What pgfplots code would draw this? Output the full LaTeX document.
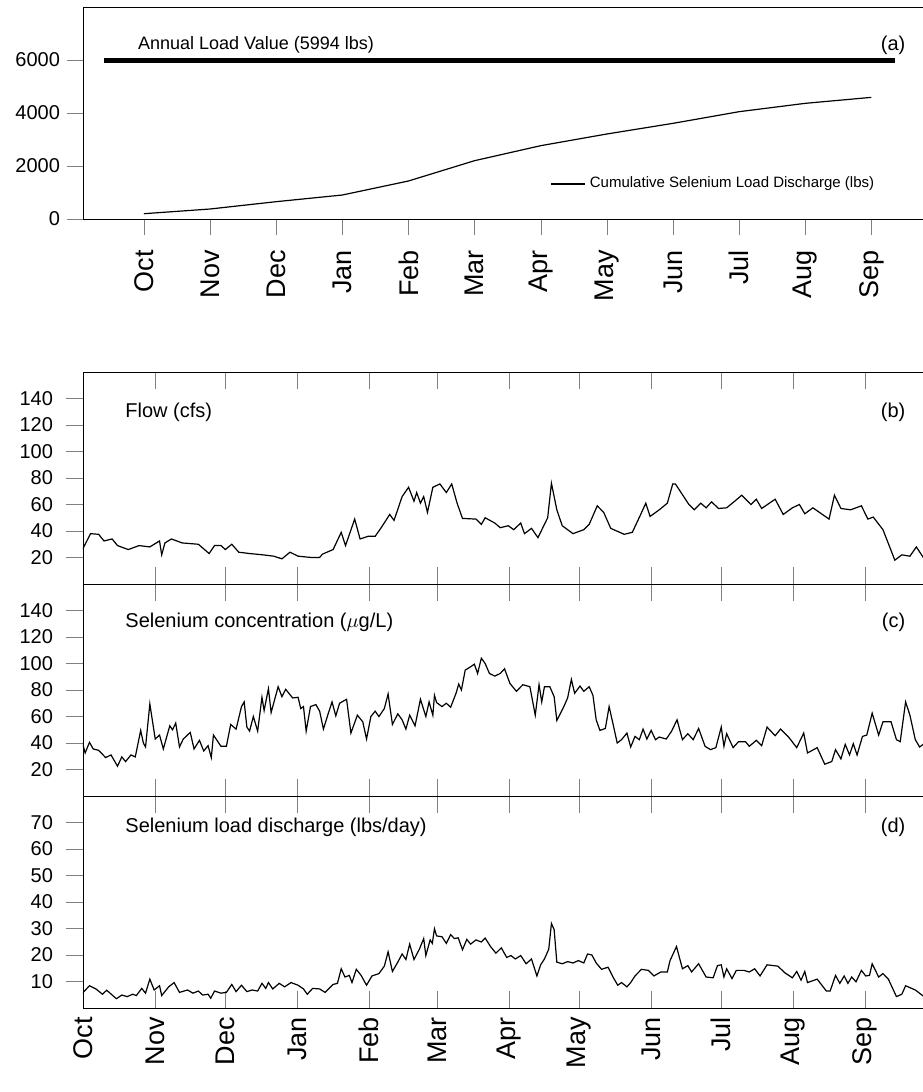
\documentclass[border=0pt]{standalone}
\usepackage{pgfplots}
\pgfplotsset{compat=1.18}
\usepackage{pgfplotstable}
\usepackage{fontspec}
\setmainfont{Liberation Sans}
\pgfplotstableread{
x y
5 26
20 38
35 37.5
45 32.5
60 34
70 29
90 26
110 29
130 28
148 32.5
152 22
158 31
170 34
190 31
220 30
240 23
250 29
262 29
270 26
282 30
295 24
315 23
340 22
360 21
375 19
390 24
405 21
430 20
445 20
450 22.5
470 26
485 39
493 29
510 49
520 34
535 36
548 36
560 43
575 52.5
583 48
598 66
610 73
620 62.5
625 69
632 61
638 66
645 54
655 73
668 75.5
680 69
690 75.5
700 61
710 49.5
735 49
745 45
752 50
770 46
780 42.5
795 44
805 41
818 46
825 38
838 42
850 35
868 50
875 76
885 56
895 44
915 38
935 41
945 45
960 59
972 54
985 42
1010 37.5
1025 39
1040 52
1050 61
1058 51
1075 56
1090 61
1100 75.5
1105 75.5
1130 60
1140 56
1152 61
1162 57.5
1172 62
1185 57
1200 57.5
1215 62.5
1228 67
1245 60
1255 64
1265 57
1290 64
1305 52.5
1322 57.5
1335 60
1345 53
1360 57.5
1390 49
1400 67
1412 57
1430 56
1450 59
1462 49
1472 50.5
1490 41
1512 18
1525 22
1540 21
1552 28
1568 18
}\flow
\pgfplotstableread{
x y
5 40
10 32.5
18 40.5
25 35.5
35 34.5
48 29
58 31
70 22.5
78 29.5
85 26
95 31
103 29.5
113 49.5
118 40
122 37
130 69.5
140 43
148 46
155 35.5
167 53
172 50
178 55
185 37
192 43
205 48
212 35.5
222 42
230 34
238 38
244 29
248 46
262 37.5
272 37.5
280 54
290 50.5
300 67.5
305 71
310 52
315 49
322 60
330 49
338 74.5
342 64.5
350 81
355 63
368 82.5
375 75
382 80.5
395 74
405 74.5
410 66
415 67.5
420 49
428 67.5
438 69
445 64
452 50.5
460 61
468 71
475 60.5
482 70
495 73
503 47.5
515 61
525 56
532 43
540 60
548 64
555 60
565 66
572 77
580 54
590 62
598 57.5
605 50.5
612 61
622 53
632 73
642 60
648 71
655 61
658 76
662 70.5
672 67.5
680 70
688 67
698 77.5
703 84.5
708 80
715 95
725 97.5
732 99.5
738 92.5
745 104
752 100
760 92.5
770 90.5
780 92.5
788 96
798 85
810 79
822 84
835 82.5
845 61
852 84
857 71
862 82.5
872 82.5
880 75
885 57
898 67.5
905 74
912 88
918 77.5
928 83
935 79
945 82.5
952 76
958 57.5
965 49.5
975 51
982 67.5
990 53
997 40
1005 42.5
1015 47.5
1022 37
1030 45
1038 42.5
1045 50.5
1052 43
1060 49.5
1068 42.5
1075 44.5
1088 43
1098 49
1108 57.5
1118 42.5
1128 47
1138 42.5
1148 51
1160 37.5
1170 35
1180 36.5
1190 52
1195 37.5
1200 47
1212 36.5
1222 41
1235 41
1242 37.5
1255 42
1265 38
1275 52
1290 45.5
1300 50.5
1315 44.5
1330 36.5
1343 47.5
1350 32.5
1368 36.5
1382 24
1395 26
1402 35
1412 28
1420 39
1428 31
1435 39.5
1442 31
1452 45
1460 46
1470 62.5
1482 46
1490 56
1505 56
1515 42.5
1522 41
1532 71
1540 61
1550 42.5
1558 37
1568 40
}\conc
\pgfplotstableread{
x y
5 5.6
18 8.4
30 7.2
42 5.2
50 6.7
68 3.5
78 4.9
88 4.3
98 5.2
105 4.7
115 7.4
122 5.6
130 10.9
138 6.8
148 8.4
152 4.7
165 8
175 9.6
185 5.9
200 6.8
210 5.6
220 6.4
228 4.9
238 5.2
243 3.7
250 6.4
262 5.6
272 5.9
282 8.9
290 6.2
300 8.6
310 6.2
320 6.8
330 6.4
338 9.3
345 7.4
350 9.6
358 7.2
370 9.3
380 8
392 9.6
405 8.6
415 7.2
422 5.2
432 7.4
445 7.2
455 5.9
470 8.9
478 9.3
485 14.8
492 11.7
500 12.3
505 9.6
513 14.6
522 12.3
532 8.6
542 12.1
555 13
565 15.8
572 21.2
580 13.8
590 17.3
598 20.4
605 18.3
612 24.1
620 18.3
630 22.2
638 26.2
642 19.8
650 25.7
654 24.4
658 29.9
662 27.2
672 26.9
680 24.4
688 27.7
695 26.2
702 26.5
710 22
718 25.9
725 24.1
735 25.7
745 24.9
752 26.4
762 23.2
772 20.7
782 22.7
792 19.1
800 19.8
808 18.5
818 19.8
828 16.7
838 18.5
848 12.1
855 16.3
862 18.5
870 22.2
875 31.9
880 29.6
885 17.3
895 16.7
905 17.5
915 17
925 17.9
935 17
942 20.4
950 20
958 17
968 14.6
980 15.4
990 11.4
998 8.6
1005 9.6
1015 8
1022 9.6
1030 12.1
1042 14.6
1055 14.2
1065 12.1
1078 13.6
1090 13.6
1095 17.9
1107 23.2
1118 14.8
1128 16
1135 13.6
1148 16.7
1162 11.7
1175 11.4
1183 16
1190 16.3
1195 11.7
1200 14.8
1210 11.1
1218 14.2
1232 14.2
1242 13.6
1252 14.8
1262 12.1
1275 16.3
1295 15.8
1308 13.3
1322 11.4
1330 13.8
1338 10.5
1345 13.8
1350 9.6
1368 10.9
1385 6.4
1392 6.4
1402 12.3
1410 9.3
1418 12.1
1425 9.3
1432 11.7
1440 9.9
1450 14.2
1458 12.1
1465 12.3
1470 16.7
1482 11.7
1490 13
1500 10.9
1515 4.3
1525 5.2
1532 8.4
1550 6.8
1568 4
}\load
\pgfplotsset{
  every axis/.style={scale only axis, width=421pt, height=106pt,
    /pgf/number format/assume math mode=true,
    tick label style={font=\fontsize{10}{12}\selectfont}},
  ser/.style={black, no markers, line width=0.6pt},
  lowpanel/.style={xmin=6, xmax=1568, ymin=0,
    xtick={6,140,270,403,537,663,796,927,1060,1190,1323,1457},
    xticklabels={}, xtick pos=both, ytick pos=left,
    tick align=inside, major tick length=8.5pt,
    y tick style={xshift=-8.5pt},
    yticklabel style={xshift=-11.5pt},
    minor tick num=0},
}
\newcommand{\monthfont}{\fontsize{13.5}{15}\selectfont}
\begin{document}
\begin{tikzpicture}
\useasboundingbox (-41.5pt,0pt) rectangle (419.5pt,-546pt);
% (a)
\begin{axis}[at={(0pt,-109.5pt)}, anchor=south west,
  xmin=-0.92, xmax=11.81, ymin=0, ymax=8000,
  xtick={0,...,11}, xticklabels={Oct,Nov,Dec,Jan,Feb,Mar,Apr,May,Jun,Jul,Aug,Sep},
  xticklabel style={rotate=90, anchor=east, font=\monthfont, xshift=-4pt},
  ytick={0,2000,4000,6000}, scaled y ticks=false,
  yticklabel style={/pgf/number format/set thousands separator={}},
  xtick pos=bottom, ytick pos=left, tick align=outside, major tick length=8pt,
  legend style={at={(0.555,0.165)}, anchor=west, draw=none, fill=none,
    font=\fontsize{7.5}{9}\selectfont, inner sep=0pt},
  legend image code/.code={\draw[black, line width=0.6pt] (0pt,0pt) -- (17pt,0pt);},
  ]
\addplot[black, no markers, line width=2.5pt, forget plot] coordinates {(-0.6,5994) (11.36,5994)};
\addplot[ser] coordinates {(0,200) (1,377) (2,654) (3,905) (4,1434) (5,2201) (6,2767) (7,3208) (8,3610) (9,4050) (10,4365) (11,4591)};
\addlegendentry{Cumulative Selenium Load Discharge (lbs)}
\node[anchor=west, font=\fontsize{9}{11}\selectfont] at (rel axis cs:0.057,0.82) {Annual Load Value (5994 lbs)};
\node[anchor=east, font=\fontsize{10}{12}\selectfont] at (rel axis cs:0.985,0.82) {(a)};
\end{axis}
% (b)
\begin{axis}[at={(0pt,-292pt)}, anchor=south west, lowpanel, ymax=160,
  ytick={20,40,...,140}]
\addplot[ser] table[x=x,y=y] {\flow};
\node[anchor=west, font=\fontsize{10}{12}\selectfont] at (rel axis cs:0.042,0.81) {Flow (cfs)};
\node[anchor=east, font=\fontsize{10}{12}\selectfont] at (rel axis cs:0.985,0.81) {(b)};
\end{axis}
% (c)
\begin{axis}[at={(0pt,-398pt)}, anchor=south west, lowpanel, ymax=160,
  ytick={20,40,...,140}]
\addplot[ser] table[x=x,y=y] {\conc};
\node[anchor=west, font=\fontsize{10}{12}\selectfont] at (rel axis cs:0.042,0.82) {Selenium concentration ($\mu$g/L)};
\node[anchor=east, font=\fontsize{10}{12}\selectfont] at (rel axis cs:0.985,0.82) {(c)};
\end{axis}
% (d)
\begin{axis}[at={(0pt,-504pt)}, anchor=south west, lowpanel, ymax=80,
  ytick={10,20,...,70},
  xticklabels={Oct,Nov,Dec,Jan,Feb,Mar,Apr,May,Jun,Jul,Aug,Sep},
  xticklabel style={rotate=90, anchor=east, font=\monthfont, xshift=-1pt}]
\addplot[ser] table[x=x,y=y] {\load};
\node[anchor=west, font=\fontsize{10}{12}\selectfont] at (rel axis cs:0.042,0.85) {Selenium load discharge (lbs/day)};
\node[anchor=east, font=\fontsize{10}{12}\selectfont] at (rel axis cs:0.985,0.85) {(d)};
\end{axis}
\end{tikzpicture}
\end{document}
